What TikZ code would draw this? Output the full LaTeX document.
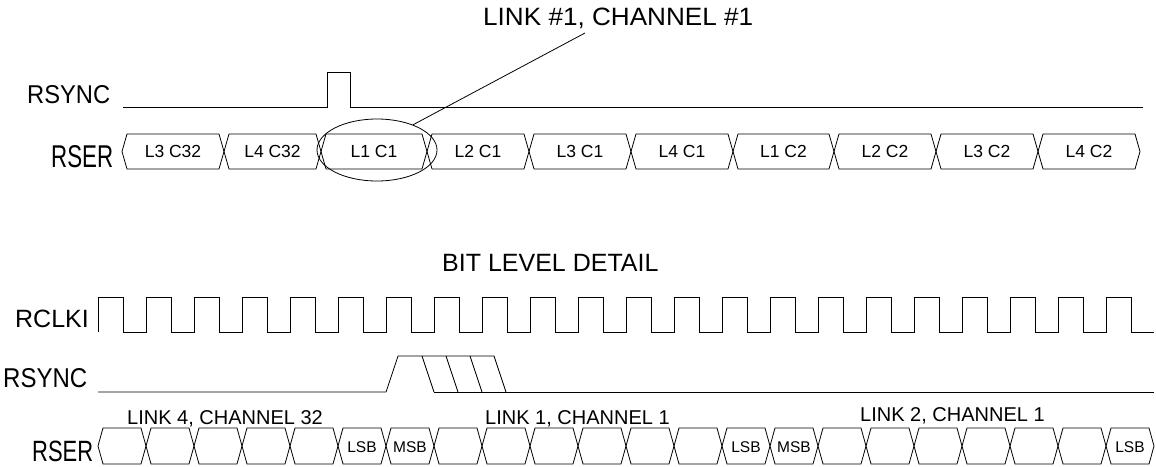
\documentclass[tikz,border=0pt]{standalone}
\usepackage{fontspec}
\setmainfont{Liberation Sans}
\usetikzlibrary{shapes.geometric}
\newcommand{\fitt}[3]{\resizebox{#1pt}{#2pt}{\fontsize{20}{24}\selectfont #3}}
\tikzset{
  wave/.style={line width=0.8pt, line join=miter},
  lbl/.style={inner sep=0pt, anchor=base west},
  boxtxt/.style={inner sep=0pt, font=\fontsize{17.5}{20}\selectfont},
  bittxt/.style={inner sep=0pt, font=\fontsize{15.5}{18}\selectfont},
  bigtxt/.style={inner sep=0pt, anchor=base west, font=\fontsize{25}{30}\selectfont},
  midtxt/.style={inner sep=0pt, anchor=base west, font=\fontsize{20}{24}\selectfont}
}
\begin{document}
\begin{tikzpicture}[x=1pt, y=-1pt]
\useasboundingbox (0,0) rectangle (1156,466);

% ---------- top section ----------
\node[lbl] (lktitle) at (483,25) {\fitt{270}{17.5}{LINK \#1, CHANNEL \#1}};
\node[lbl] (rsync1) at (27,103) {\fitt{83}{18}{RSYNC}};
\node[lbl] (rser1) at (51,167) {\fitt{62}{22}{RSER}};

% RSYNC waveform (top)
\draw[wave] (123,107) -- (327,107) -- (327,72) -- (350,72) -- (350,107) -- (1143,107);

% RSER channel boxes (top)
\foreach \a/\b/\t [count=\n] in {122/224/L3 C32, 224/321/L4 C32, 321/427/L1 C1, 427/529/L2 C1, 529/631/L3 C1, 631/733/L4 C1, 733/834/L1 C2, 834/936/L2 C2, 936/1038/L3 C2, 1038/1140/L4 C2}{
  \draw[wave] (\a,151.5) -- ({\a+5},134) -- ({\b-5},134) -- (\b,151.5) -- ({\b-5},169) -- ({\a+5},169) -- cycle;
  \node[boxtxt] (tb\n) at ({(\a+\b)/2},151.5) {\t};
}

% highlight ellipse and leader
\node[draw, wave, ellipse, minimum width=120pt, minimum height=62pt, inner sep=0pt] (ell) at (377,150) {};
\coordinate (lead) at (585,33);
\draw[wave] (ell.35) -- (lead);

% ---------- bit level detail ----------
\node[bigtxt] (bld) at (442,271) {BIT LEVEL DETAIL};
\node[bigtxt] (rclki) at (15,327) {RCLKI};
\node[lbl] (rsync2) at (3,387) {\fitt{84}{19}{RSYNC}};
\node[lbl] (rser2) at (32,461.5) {\fitt{61}{20.5}{RSER}};

% clock
\draw[wave] (98,332) \foreach \i in {0,...,21}{ -- ({98+48*\i},332) -- ({98+48*\i},297) -- ({123+48*\i},297) -- ({123+48*\i},332) } -- (1154,332);

% RSYNC (bit level)
\draw[wave] (98,392) -- (386,392) -- (398,356) -- (494,356) -- (506,392);
\draw[wave] (434,392) -- (1154,392);
\draw[wave] (422,356) -- (434,392);
\draw[wave] (446,356) -- (458,392);
\draw[wave] (470,356) -- (482,392);

% RSER bits
\foreach \i in {0,...,21}{
  \draw[wave] ({98+48*\i},446) -- ({103+48*\i},428) -- ({141+48*\i},428) -- ({146+48*\i},446) -- ({141+48*\i},464) -- ({103+48*\i},464) -- cycle;
}
\node[bittxt] (b5) at ({122+48*5},447) {LSB};
\node[bittxt] (b6) at ({122+48*6},447) {MSB};
\node[bittxt] (b13) at ({122+48*13},447) {LSB};
\node[bittxt] (b14) at ({122+48*14},447) {MSB};
\node[bittxt] (b21) at ({122+48*21},447) {LSB};

\node[midtxt] (l4c32) at (127,424) {LINK 4, CHANNEL 32};
\node[midtxt] (l1c1) at (485,424) {LINK 1, CHANNEL 1};
\node[midtxt] (l2c1) at (860,421.5) {LINK 2, CHANNEL 1};
\end{tikzpicture}
\end{document}
